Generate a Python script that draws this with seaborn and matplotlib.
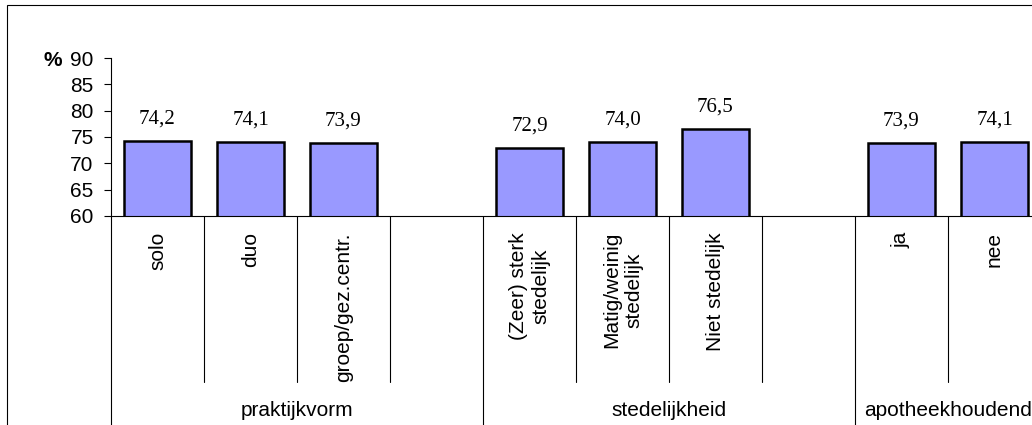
import matplotlib
matplotlib.use("Agg")
import matplotlib.pyplot as plt
import matplotlib.transforms as mtransforms
from matplotlib.patches import Rectangle
import pandas as pd
import seaborn as sns

# Category labels, values and the group each category belongs to
categories = ["solo", "duo", "groep/gez.centr.",
              "(Zeer) sterk\nstedelijk", "Matig/weinig\nstedelijk", "Niet stedelijk",
              "ja", "nee"]
values = [74.2, 74.1, 73.9, 72.9, 74.0, 76.5, 73.9, 74.1]
groups = ["praktijkvorm"] * 3 + ["stedelijkheid"] * 3 + ["apotheekhoudend"] * 2
group_names = ["praktijkvorm", "stedelijkheid", "apotheekhoudend"]

# Slot order on the x axis, with blank slots separating the groups
slot_order = categories[0:3] + [" "] + categories[3:6] + ["  "] + categories[6:8]
group_spans = [(-0.5, 3.5), (3.5, 7.5), (7.5, 9.5)]

y_ticks = [60, 65, 70, 75, 80, 85, 90]

sns.set_style("white")
plt.rcParams["font.family"] = ["Liberation Sans", "DejaVu Sans"]
plt.rcParams["text.color"] = "black"
plt.rcParams["ytick.color"] = "black"
plt.rcParams["ytick.labelcolor"] = "black"

W, H = 1032, 425
fig = plt.figure(figsize=(W / 100, H / 100), dpi=100)

left_px, right_px, top_px, bottom_px = 111, 1041, 58, 216
ax = fig.add_axes([left_px / W, 1 - bottom_px / H,
                   (right_px - left_px) / W, (bottom_px - top_px) / H])

df = pd.DataFrame({"categorie": categories, "waarde": values, "groep": groups})
sns.barplot(data=df, x="categorie", y="waarde", order=slot_order, ax=ax,
            color="#9999FF", saturation=1, width=0.72,
            edgecolor="black", linewidth=1.8, errorbar=None)

ax.set_xlim(-0.5, 9.5)
ax.set_ylim(60, 90)
ax.set_yticks(y_ticks)
ax.set_yticklabels([str(t) for t in y_ticks], fontsize=15, color="black")
ax.tick_params(axis="y", direction="out", length=5, width=0.8, color="black",
               pad=7.5, left=True)
ax.tick_params(axis="x", bottom=False, labelbottom=False)
ax.set_xlabel("")
ax.set_ylabel("")
for side in ("top", "right"):
    ax.spines[side].set_visible(False)
for side in ("left", "bottom"):
    ax.spines[side].set_color("black")
    ax.spines[side].set_linewidth(0.8)

# Value labels with decimal commas
bars = ax.containers[0]
ax.bar_label(bars, labels=[f"{b.get_height():.1f}".replace(".", ",") for b in bars],
             padding=9, fontsize=15, color="black",
             family=["Liberation Serif", "DejaVu Serif"])

# Multi-level category axis drawn below the plot area
trans = mtransforms.blended_transform_factory(ax.transData, fig.transFigure)
y_axis_fig = 1 - bottom_px / H
y_inner_end = 1 - 382 / H
group_edges = {-0.5, 3.5, 7.5, 9.5}
for i in range(11):
    xb = i - 0.5
    y_end = -0.05 if xb in group_edges else y_inner_end
    ax.plot([xb, xb], [y_axis_fig, y_end], color="black", lw=0.8,
            transform=trans, clip_on=False)

for pos, label in enumerate(slot_order):
    if label.strip():
        ax.text(pos, 1 - 232 / H, label, transform=trans, rotation=90,
                ha="center", va="top", multialignment="center", fontsize=15,
                linespacing=1.2, color="black")

for name, (a, b) in zip(group_names, group_spans):
    ax.text((a + b) / 2, 1 - 411 / H, name, transform=trans,
            ha="center", va="center", fontsize=15, color="black")

# Unit label beside the top of the value axis
fig.text(53 / W, 1 - 60 / H, "%", ha="center", va="center",
         fontsize=15, fontweight="bold", color="black")

# Outer chart border
fig.patches.append(Rectangle((7 / W, -0.2), 2.0, 1 - 5 / H + 0.2,
                             transform=fig.transFigure, fill=False,
                             edgecolor="black", lw=0.8))

fig.savefig("out.png", dpi=100)
